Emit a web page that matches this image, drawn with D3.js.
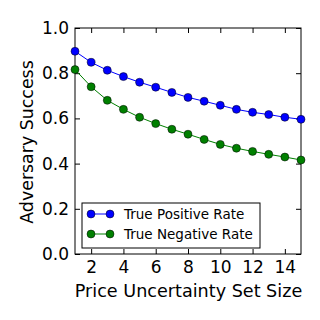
<!DOCTYPE html>
<html>
<head>
<meta charset="utf-8">
<script src="https://cdn.jsdelivr.net/npm/d3@7"></script>
<style>
  body { margin: 0; background: #fff; }
  text { font-family: "DejaVu Sans", sans-serif; fill: #000; }
</style>
</head>
<body>
<svg id="chart" width="320" height="320"></svg>
<script>
// set sizes 1..15
var setSizes = [1, 2, 3, 4, 5, 6, 7, 8, 9, 10, 11, 12, 13, 14, 15];
var truePositive = [0.897, 0.848, 0.813, 0.785, 0.760, 0.738, 0.715, 0.693, 0.676, 0.658, 0.640, 0.627, 0.617, 0.605, 0.596];
var trueNegative = [0.816, 0.740, 0.680, 0.640, 0.605, 0.577, 0.552, 0.530, 0.507, 0.485, 0.468, 0.454, 0.441, 0.429, 0.416];
var xTicks = [2, 4, 6, 8, 10, 12, 14];
var yTicks = [0, 0.2, 0.4, 0.6, 0.8, 1.0];
var seriesNames = ["True Positive Rate", "True Negative Rate"];
var seriesColors = ["#0000ff", "#008000"];

// plot box (window.top is reserved, so use other names)
var plotLeft = 75, plotRight = 301, plotTop = 28, plotBottom = 254;
var svg = d3.select("#chart");

var x = d3.scaleLinear().domain([1, 15]).range([plotLeft, plotRight]);
var y = d3.scaleLinear().domain([0, 1]).range([plotBottom, plotTop]);

// axes, ticks point inward like matplotlib classic
svg.append("g").attr("transform", "translate(0," + plotBottom + ")")
    .call(d3.axisBottom(x).tickValues(xTicks).tickSize(-5).tickPadding(7).tickFormat(d3.format("d")))
    .call(function(g){ g.select(".domain").remove(); g.selectAll("text").attr("font-size", 17); });
svg.append("g").attr("transform", "translate(0," + plotTop + ")")
    .call(d3.axisTop(x).tickValues(xTicks).tickSize(-5).tickFormat(""))
    .call(function(g){ g.select(".domain").remove(); });
svg.append("g").attr("transform", "translate(" + plotLeft + ",0)")
    .call(d3.axisLeft(y).tickValues(yTicks).tickSize(-5).tickPadding(6).tickFormat(d3.format(".1f")))
    .call(function(g){ g.select(".domain").remove(); g.selectAll("text").attr("font-size", 17); });
svg.append("g").attr("transform", "translate(" + plotRight + ",0)")
    .call(d3.axisRight(y).tickValues(yTicks).tickSize(-5).tickFormat(""))
    .call(function(g){ g.select(".domain").remove(); });

svg.append("rect")
    .attr("x", plotLeft).attr("y", plotTop)
    .attr("width", plotRight - plotLeft).attr("height", plotBottom - plotTop)
    .attr("fill", "none").attr("stroke", "#000").attr("stroke-width", 1);

var line = d3.line()
    .x(function(d){ return x(d[0]); })
    .y(function(d){ return y(d[1]); });

[truePositive, trueNegative].forEach(function(vals, i){
    var pts = setSizes.map(function(s, j){ return [s, vals[j]]; });
    svg.append("path").datum(pts)
        .attr("d", line)
        .attr("fill", "none")
        .attr("stroke", seriesColors[i])
        .attr("stroke-width", 1);
    svg.append("g").selectAll("circle")
        .data(pts)
        .enter()
        .append("circle")
        .attr("cx", function(d){ return x(d[0]); })
        .attr("cy", function(d){ return y(d[1]); })
        .attr("r", 4)
        .attr("fill", seriesColors[i])
        .attr("stroke", "#000")
        .attr("stroke-width", 0.5);
});

// legend
var lg = svg.append("g");
lg.append("rect")
    .attr("x", 82).attr("y", 203)
    .attr("width", 178).attr("height", 45)
    .attr("fill", "#fff").attr("stroke", "#000").attr("stroke-width", 1);
seriesNames.forEach(function(name, i){
    var ry = 214 + i * 20;
    lg.append("line").attr("x1", 91).attr("x2", 110).attr("y1", ry).attr("y2", ry)
        .attr("stroke", seriesColors[i]).attr("stroke-width", 1);
    [91, 110].forEach(function(cx){
        lg.append("circle").attr("cx", cx).attr("cy", ry).attr("r", 4)
            .attr("fill", seriesColors[i]).attr("stroke", "#000").attr("stroke-width", 0.5);
    });
    lg.append("text").attr("x", 124).attr("y", ry + 5)
        .attr("font-size", 13.5).text(name);
});

// axis labels
svg.append("text")
    .attr("x", (plotLeft + plotRight) / 2 + 0.5).attr("y", 297)
    .attr("text-anchor", "middle").attr("font-size", 17.6)
    .text("Price Uncertainty Set Size");
svg.append("text")
    .attr("transform", "translate(33," + ((plotTop + plotBottom) / 2 + 1) + ") rotate(-90)")
    .attr("text-anchor", "middle").attr("font-size", 17.4)
    .text("Adversary Success");
</script>
</body>
</html>
